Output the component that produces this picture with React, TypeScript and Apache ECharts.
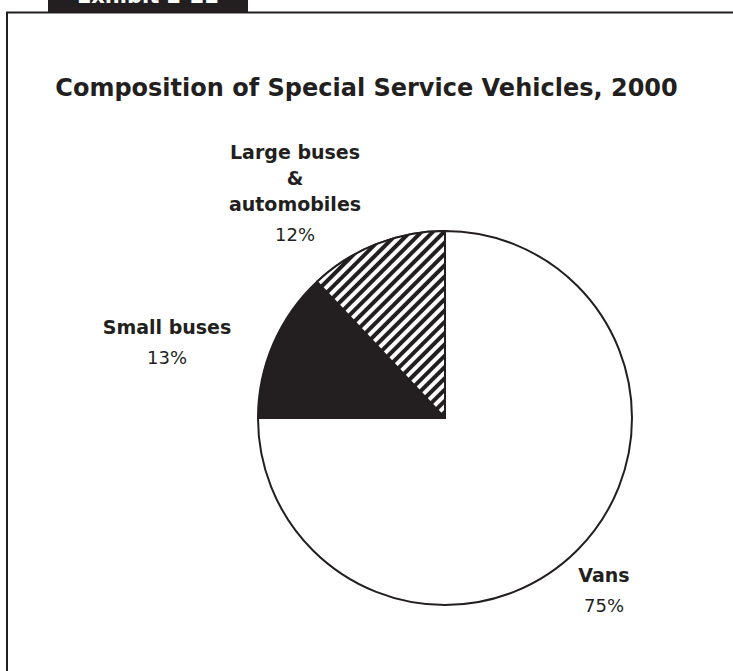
import React, { useEffect, useRef } from "react";
import * as echarts from "echarts";

const categories = ["Vans", "Small buses", "Large buses\n&\nautomobiles"];
const values = [75, 13, 12];
const titleText = "Composition of Special Service Vehicles, 2000";
const exhibitText = "Exhibit 2-22";

const INK = "#231f20";

export default function App() {
  const ref = useRef<HTMLDivElement>(null);
  useEffect(() => {
    if (!ref.current) return;
    const chart = echarts.init(ref.current, undefined, { renderer: "svg" });
    const labelPos: Record<number, [number, number]> = {
      0: [604, 592],
      1: [167, 344],
      2: [295, 195],
    };
    const fills = [
      { color: "#ffffff" },
      { color: INK },
      {
        color: INK,
        decal: {
          symbol: "rect",
          symbolSize: 1,
          dashArrayX: [1, 0],
          dashArrayY: [3.5, 3.5],
          rotation: -Math.PI / 4,
          color: "#ffffff",
        },
      },
    ];
    chart.setOption({
      animation: false,
      backgroundColor: "#ffffff",
      title: {
        text: titleText,
        left: "center",
        top: 71,
        textStyle: {
          fontFamily: "DejaVu Sans",
          fontWeight: "bold",
          fontSize: 24,
          color: INK,
        },
      },
      graphic: [
        {
          type: "rect",
          shape: { x: 48, y: 0, width: 200, height: 12 },
          style: { fill: INK },
        },
        {
          type: "text",
          x: 148,
          y: 6,
          style: {
            text: exhibitText,
            fill: "#ffffff",
            font: "bold 21px 'DejaVu Sans'",
            align: "center",
            verticalAlign: "bottom",
          },
        },
        {
          type: "line",
          shape: { x1: 6, y1: 12.5, x2: 733, y2: 12.5 },
          style: { stroke: INK, lineWidth: 2 },
        },
        {
          type: "line",
          shape: { x1: 7, y1: 12, x2: 7, y2: 671 },
          style: { stroke: INK, lineWidth: 2 },
        },
      ],
      series: [
        {
          type: "pie",
          center: [445, 418],
          radius: 187,
          startAngle: 90,
          clockwise: true,
          avoidLabelOverlap: false,
          data: categories.map((name, i) => ({
            name,
            value: values[i],
            itemStyle: { ...fills[i], borderColor: INK, borderWidth: 2 },
          })),
          label: {
            show: true,
            position: "outside",
            formatter: (p: any) => {
              const lines = String(p.name).split("\n").map((l: string) => `{b|${l}}`);
              return lines.join("\n") + `\n{p|${p.value}%}`;
            },
            rich: {
              b: {
                fontFamily: "DejaVu Sans",
                fontWeight: "bold",
                fontSize: 19,
                color: INK,
                lineHeight: 26,
                align: "center",
              },
              p: {
                fontFamily: "DejaVu Sans",
                fontSize: 18,
                color: INK,
                lineHeight: 34,
                align: "center",
              },
            },
          },
          labelLine: { show: false },
          labelLayout: (params: any) => {
            const pos = labelPos[params.dataIndex];
            return {
              x: pos[0],
              y: pos[1],
              align: "center",
              verticalAlign: "middle",
            };
          },
          emphasis: { disabled: true },
        },
      ],
    });
    return () => chart.dispose();
  }, []);
  return (
    <div
      ref={ref}
      style={{ position: "fixed", left: 0, top: 0, width: 733, height: 671 }}
    />
  );
}
